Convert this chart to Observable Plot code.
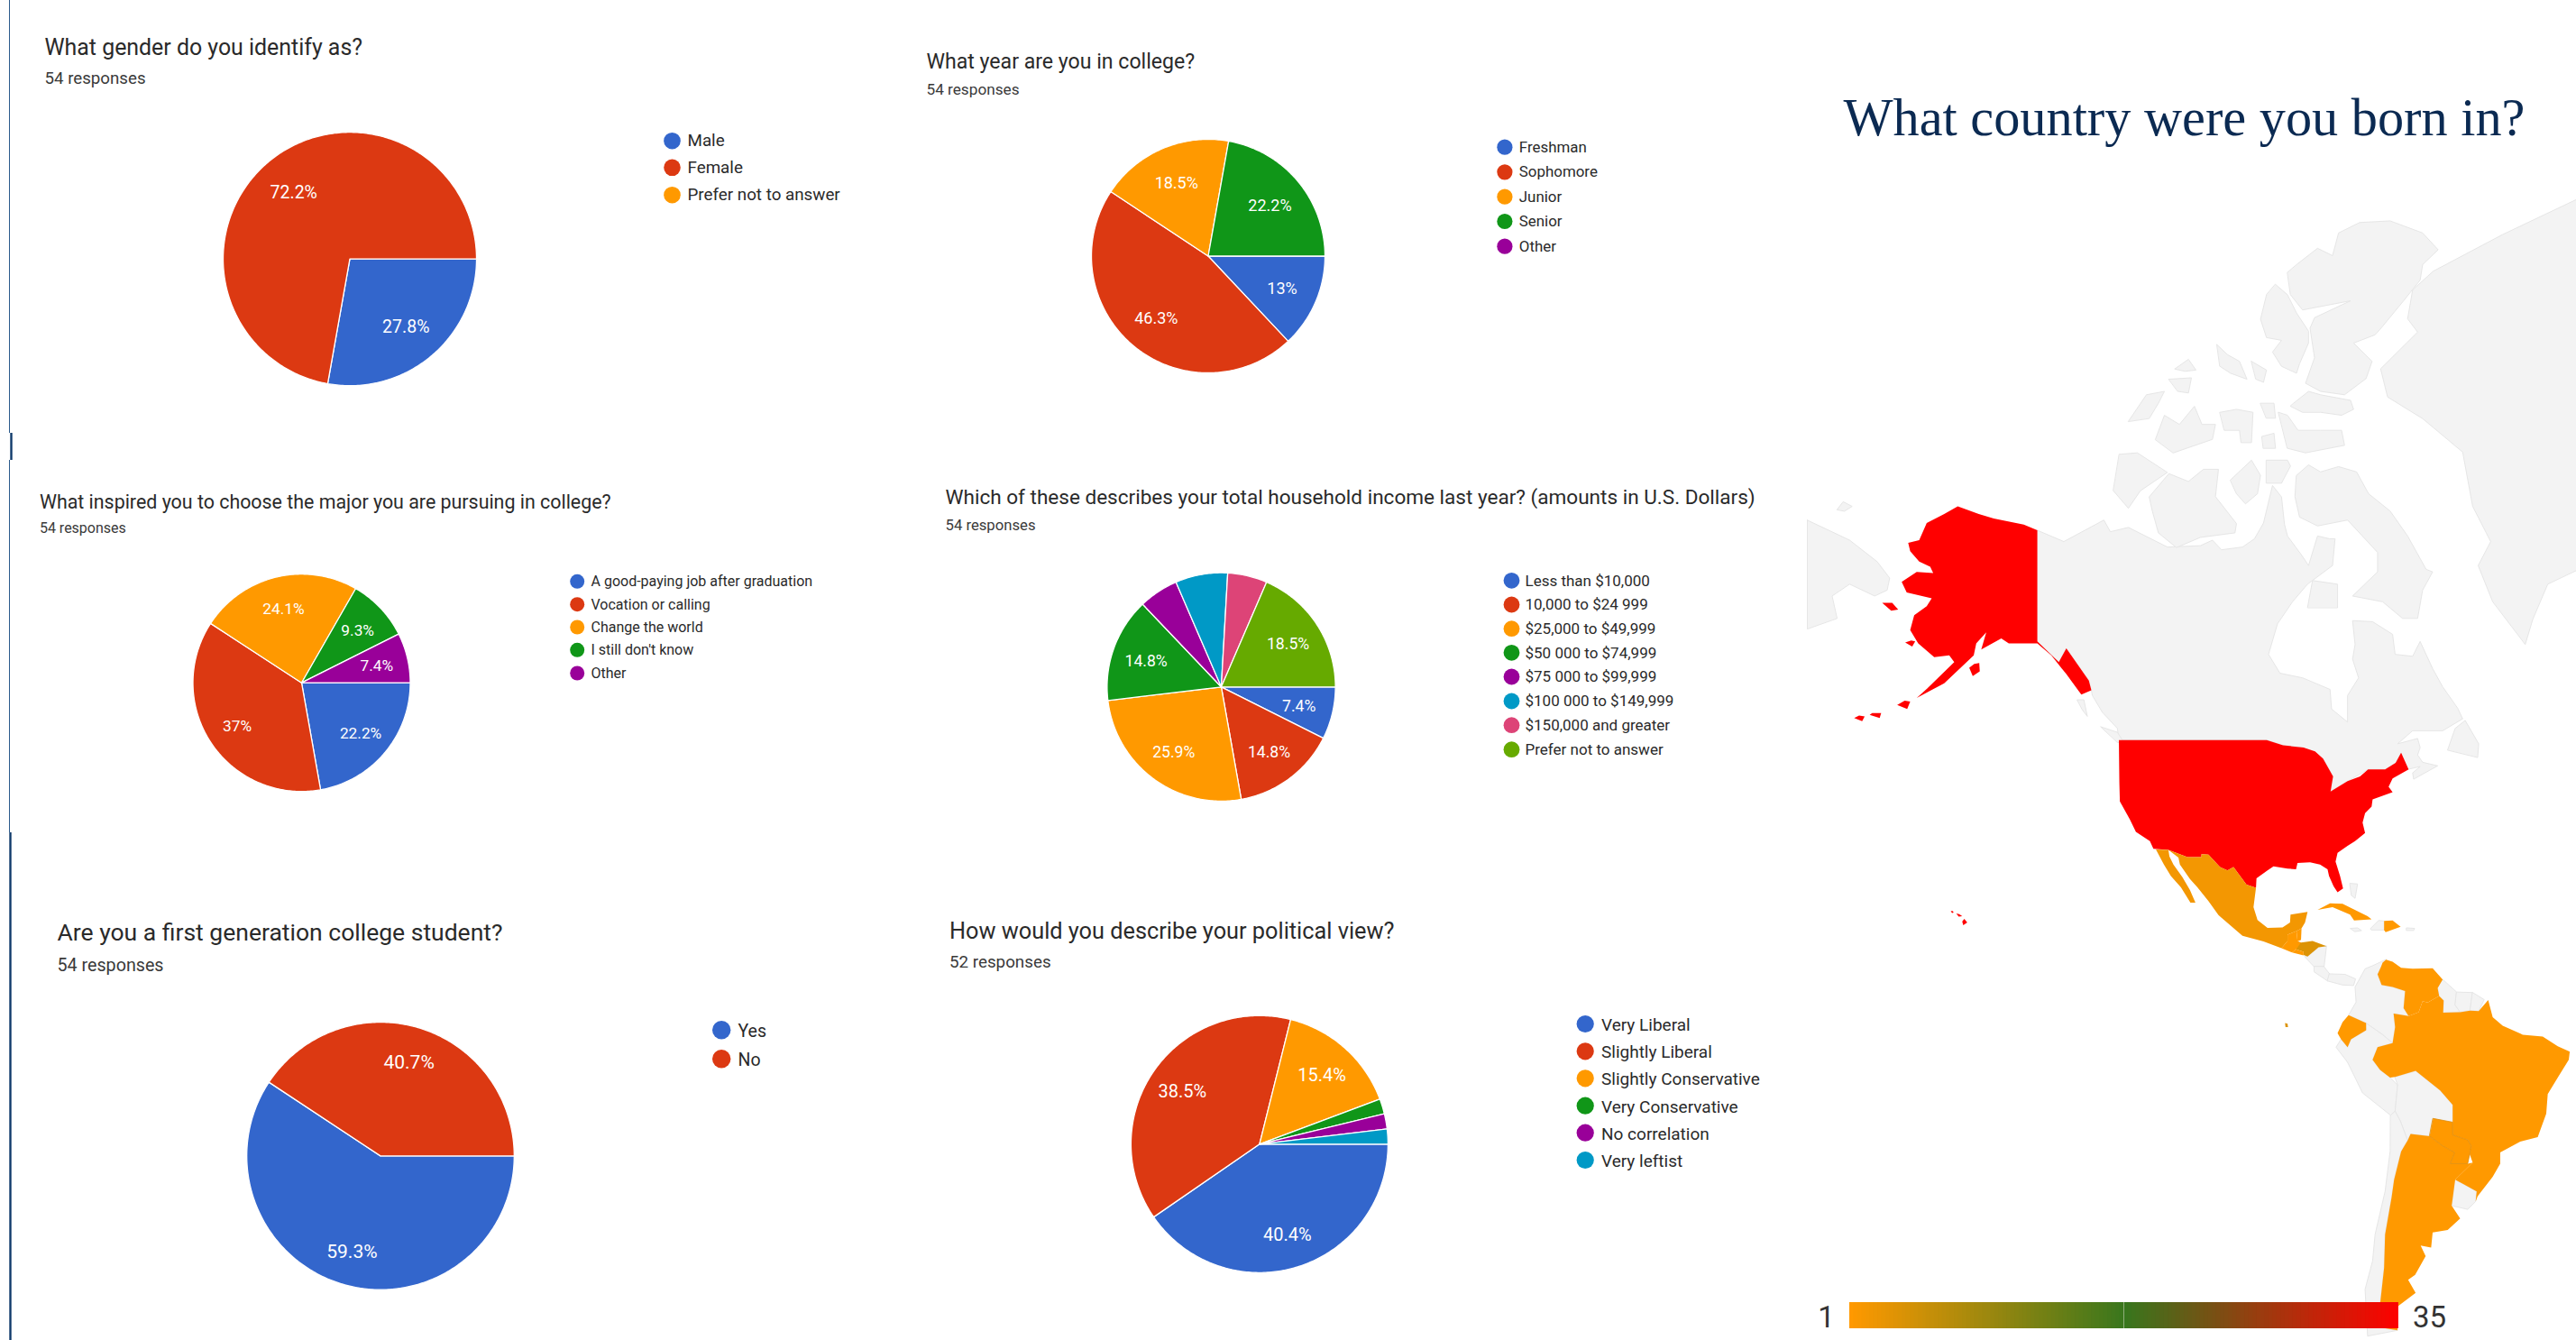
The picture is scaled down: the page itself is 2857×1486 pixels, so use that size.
<!DOCTYPE html>
<html>
<head>
<meta charset="utf-8">
<script src="https://cdn.jsdelivr.net/npm/d3@7"></script>
<script src="https://cdn.jsdelivr.net/npm/@observablehq/plot@0.6"></script>
<style>
html,body{margin:0;padding:0;background:#fff}
#page{position:relative;width:2857px;height:1486px;overflow:hidden;background:#fff}
</style>
</head>
<body>
<div id="page"></div>
<script>
// ---------- survey data ----------
const genderLabels = ["Male", "Female", "Prefer not to answer"];
const genderValues = [27.8, 72.2, 0];
const genderText = ["27.8%", "72.2%", ""];

const yearLabels = ["Freshman", "Sophomore", "Junior", "Senior", "Other"];
const yearValues = [13, 46.3, 18.5, 22.2, 0];
const yearText = ["13%", "46.3%", "18.5%", "22.2%", ""];

const majorLabels = ["A good-paying job after graduation", "Vocation or calling", "Change the world", "I still don't know", "Other"];
const majorValues = [22.2, 37, 24.1, 9.3, 7.4];
const majorText = ["22.2%", "37%", "24.1%", "9.3%", "7.4%"];

const incomeLabels = ["Less than $10,000", "10,000 to $24 999", "$25,000 to $49,999", "$50 000 to $74,999", "$75 000 to $99,999", "$100 000 to $149,999", "$150,000 and greater", "Prefer not to answer"];
const incomeValues = [7.4, 14.8, 25.9, 14.8, 5.6, 7.4, 5.6, 18.5];
const incomeText = ["7.4%", "14.8%", "25.9%", "14.8%", "", "", "", "18.5%"];

const firstGenLabels = ["Yes", "No"];
const firstGenValues = [59.3, 40.7];
const firstGenText = ["59.3%", "40.7%"];

const politicalLabels = ["Very Liberal", "Slightly Liberal", "Slightly Conservative", "Very Conservative", "No correlation", "Very leftist"];
const politicalValues = [40.4, 38.5, 15.4, 1.9, 1.9, 1.9];
const politicalText = ["40.4%", "38.5%", "15.4%", "", "", ""];

const palette = ["#3366cc", "#dc3912", "#ff9900", "#109618", "#990099", "#0099c6", "#dd4477", "#66aa00"];

// ---------- map data: [longitude, latitude] outlines ----------
const alaska = [[-141,69.6],[-143.7,70],[-149.7,70.4],[-152.7,70.7],[-156.9,71.2],[-159.6,70.7],[-163.1,70.1],[-164.6,68.9],[-166.8,68.7],[-166.4,68.1],[-164.6,67.3],[-162.4,66.9],[-161.8,66.4],[-165.1,66.5],[-168.1,65.7],[-167.1,64.8],[-162.1,64.3],[-163.1,63.6],[-165.6,62.8],[-166.4,61.4],[-164.8,60.1],[-161.6,58.7],[-158.6,58.9],[-157.6,58.2],[-163,55.3],[-165.1,54.2],[-159.6,55.9],[-153.7,58.9],[-153.2,60.1],[-151.2,61.2],[-152.2,59.5],[-148.2,60.6],[-146.7,60.1],[-141,60.1],[-138.2,58.9],[-135.2,56.9],[-132.2,54.6],[-130.2,55.1],[-130.7,56.2],[-135.2,59.6],[-136.7,58.2],[-141,60.3]];
const kodiak = [[-154.6,57.6],[-153.9,56.7],[-152.5,57.2],[-152.6,58.1],[-153.6,58]];
const stLawrence = [[-172,63.9],[-170.2,63.2],[-168.8,63.3],[-170,63.9]];
const nunivak = [[-167.4,60.2],[-166,59.8],[-165.4,60.3],[-166.2,60.4]];
const aleutian1 = [[-169,53.4],[-167,52.9],[-166.4,53.8],[-167.5,53.9]];
const aleutian2 = [[-174.5,52.2],[-172.5,51.8],[-172.2,52.4],[-174,52.4]];
const aleutian3 = [[-177.6,51.8],[-176,51.4],[-175.5,52],[-176.6,52.1]];
const hawaii = [[-156,19.7],[-155.8,19],[-155,19.5],[-155.6,20.2]];
const maui = [[-157.2,21.2],[-156.7,20.6],[-156,20.7],[-156.6,21.1]];
const oahu = [[-158.3,21.6],[-158,21.3],[-157.7,21.4],[-158,21.7]];
const usaMain = [[-124.7,49],[-95.15,49],[-91.9,48.3],[-87.8,48],[-85.5,47.5],[-83.9,46.5],[-81.9,44],[-82.4,41.8],[-79,43.3],[-76.5,44],[-74.9,45],[-71.5,45],[-69.4,45.9],[-68.3,47.3],[-66.8,45],[-70,43.7],[-70.8,42.5],[-70,41.7],[-74,40.6],[-74.2,39.5],[-75.5,38.5],[-76,37],[-75.5,35.3],[-77.5,34],[-79,33.2],[-81,32],[-81.4,30.5],[-80.5,28],[-79.9,25.8],[-81,25.1],[-81.8,26.2],[-82.7,28],[-83,29.2],[-84.5,30],[-86.5,30.4],[-89,30.3],[-89.3,29.2],[-91,29.3],[-93.8,29.7],[-95,29],[-97.2,27.6],[-97.3,25.9],[-99.2,26.5],[-101.8,29.6],[-103,29],[-104.5,29.6],[-106.8,31.7],[-108.2,31.8],[-108.2,31.3],[-111,31.3],[-114.8,32.5],[-117.8,32.7],[-118.5,34],[-121.3,35.5],[-122.5,37.5],[-124.5,40.3],[-124.6,43]];
const mexico = [[-114.8,32.5],[-111,31.3],[-108.2,31.3],[-108.2,31.8],[-106.8,31.7],[-104.5,29.6],[-103,29],[-101.8,29.6],[-99.2,26.5],[-97.3,25.9],[-97.8,22.4],[-97,20],[-95,18.5],[-92,18.6],[-90.5,19.5],[-90.4,21],[-87,21.5],[-87.5,19.5],[-88.2,18.4],[-89.2,17.9],[-91,17.2],[-91,16],[-92.2,14.6],[-95.8,15.9],[-100,17],[-104.8,20.9],[-106.8,23.5],[-109,26],[-110.5,27.5],[-112.5,30],[-112.8,31.2]];
const baja = [[-117.3,32.6],[-115.7,30],[-114.3,28],[-112.3,26],[-110.4,23.2],[-109.4,23.2],[-110.5,25.5],[-112,27.8],[-113.8,30],[-114.6,31.4],[-114.8,32.5]];
const guatemala = [[-92.2,14.6],[-91,16],[-91,17.2],[-89.2,17.9],[-89,15.9],[-88.3,15.7],[-89.3,14.4],[-90.1,13.8]];
const belize = [[-89.2,17.9],[-88.2,18.4],[-88.3,16.2],[-89,15.9]];
const elSalvador = [[-90.1,13.8],[-89.3,14.4],[-87.8,13.9],[-87.8,13.2]];
const honduras = [[-89,15.9],[-88.3,15.7],[-86,16],[-83.2,15],[-84.8,14.8],[-87,13],[-87.8,13.3],[-87.8,13.9],[-89.3,14.4]];
const cuba = [[-85,21.9],[-82.5,23.1],[-80,23],[-75,20.7],[-74.2,20.1],[-77.7,19.9],[-78.5,21],[-82,22.4]];
const dominican = [[-71.7,19.8],[-70,19.9],[-68.4,18.7],[-71.4,17.7],[-71.7,18.1]];
const venezuela = [[-72,11.8],[-71.3,12.4],[-70,12],[-68.3,10.8],[-66,10.6],[-62,10.7],[-60,8.5],[-61,6.8],[-60.7,5.2],[-63,3.9],[-64,4.2],[-64.8,2],[-66.8,1.2],[-67.8,2.8],[-67.5,6.2],[-70,7],[-72.2,7.4],[-73,9.5],[-72.3,11]];
const ecuador = [[-78.8,1.4],[-75.3,-0.2],[-75.3,-1.6],[-78.3,-3.4],[-79,-5],[-80.3,-3.4],[-81,-2.2],[-80,0]];
const brazil = [[-60.7,5.2],[-59.8,4.3],[-59.9,1.9],[-56.5,2],[-54.5,2.3],[-52.8,2.2],[-50.9,4.4],[-50,1],[-48,-0.7],[-44,-2.5],[-40,-2.9],[-37,-4.8],[-34.6,-5.9],[-34.8,-7.5],[-37,-11],[-39,-14.2],[-39.3,-18],[-41,-22.4],[-44.5,-23.2],[-48.5,-25.2],[-48.5,-27.2],[-50,-29.5],[-53,-32.8],[-53.4,-33.7],[-53.2,-32],[-55.8,-30.8],[-57.5,-30],[-54,-27],[-54.6,-25.5],[-54.3,-24],[-55,-22.9],[-58,-22],[-58,-19.8],[-58,-16.3],[-60.5,-13.5],[-65.4,-9.7],[-69.5,-10.9],[-70.5,-11],[-72.5,-9.5],[-74,-7.5],[-73,-5],[-70,-4.2],[-69.5,-1],[-69.8,1.7],[-66.8,1.2],[-64.8,2],[-64,4.2],[-63,3.9]];
const paraguay = [[-61.9,-18.9],[-58,-19.6],[-58,-22],[-55,-22.9],[-54.3,-24],[-54.6,-25.5],[-55,-27.2],[-58.5,-27.2],[-57.6,-25.2],[-60,-24],[-62.6,-22.2]];
const argentina = [[-66.4,-21.8],[-62.6,-22.2],[-60,-24],[-57.6,-25.2],[-58.5,-27.2],[-55,-27.2],[-54,-27],[-57.5,-30],[-58,-33.2],[-58.2,-34.4],[-56.5,-36.5],[-59,-38.3],[-62,-38.7],[-62.3,-41],[-64.4,-40.7],[-63.4,-42.3],[-65.5,-45],[-66.9,-45.7],[-65.4,-47.5],[-69.4,-49.5],[-69,-52.3],[-72,-52],[-72.5,-49],[-71.7,-44],[-71.5,-39],[-70.2,-33],[-69.7,-30],[-68.3,-25],[-67,-23]];
const galapagos = [[-91.5,-0.2],[-91,-0.3],[-90.9,-1],[-91.4,-1]];

const canada = [[-141,69.6],[-135.7,68.8],[-127.7,70.3],[-126.4,69.5],[-122.8,69.8],[-115,68.4],[-108.4,68.5],[-106,68.9],[-104.2,68.2],[-100,68.4],[-97.6,69],[-95.8,70.1],[-94,72.5],[-92.2,71.8],[-91.6,70],[-91,69.2],[-88,67.7],[-86.8,67],[-85,69.2],[-82.6,69],[-81.5,69],[-82,67],[-87,65.5],[-90,64],[-93,62],[-94.8,59],[-92.5,57],[-88,56.5],[-82.5,55.2],[-82.2,52.9],[-79,51.3],[-79,54.5],[-76.8,56.5],[-78,58.5],[-77.5,60],[-78,62.3],[-74,62.2],[-70,61],[-69.5,59],[-66,58.8],[-64.5,60.3],[-62,57.5],[-60,55.5],[-57,53],[-56,51.7],[-60,50.2],[-66,50.2],[-69,48.5],[-65,49.2],[-64.5,48],[-65,47],[-64,46],[-61,45.5],[-65.8,43.6],[-66,44.5],[-64.5,45.4],[-67,45],[-68.3,47.3],[-69.4,45.9],[-71.5,45],[-74.9,45],[-79,43.3],[-82.4,41.8],[-81.9,44],[-83.9,46.5],[-87.8,48],[-91.9,48.3],[-95.15,49],[-124.7,49],[-125,50.5],[-128,52.5],[-130,54.5],[-130.2,55.1],[-130.7,56.2],[-135.2,59.6],[-136.7,58.2],[-141,60.3]];
const baffin = [[-89.2,73.1],[-86.8,73.7],[-84.4,73.3],[-80.8,73.6],[-77.2,73.3],[-74.8,72],[-70.5,70.9],[-67,69.2],[-63.3,66.7],[-62,66.5],[-64,65],[-65,62.5],[-68,62.5],[-72,64],[-78,64.5],[-73,66.5],[-73,68],[-79,70.3],[-85,69.9],[-88.6,70.5],[-89.5,71.8]];
const victoria = [[-118.6,71.82],[-114.7,73.2],[-110.8,72.74],[-107.8,73.45],[-104.8,73.45],[-105.4,71.82],[-101.2,70.06],[-101.5,69.42],[-108.4,69.1],[-113.2,68.36],[-116.8,69.42],[-118,70.88]];
const banks = [[-124.6,74.28],[-121,74.36],[-115,73.27],[-120.4,72.18],[-122.8,71.08],[-125.8,72.18]];
const ellesmere = [[-91,81.63],[-89.2,81.85],[-85,82.3],[-82,82.1],[-80.8,82.7],[-76.6,82.96],[-70.5,83],[-64,82.7],[-60.9,82.26],[-64,81.85],[-64.5,81.4],[-67.8,80.76],[-72.3,79.84],[-73.5,79.6],[-77.8,79.3],[-74.1,78.6],[-75.3,77.9],[-79.6,77.2],[-84.4,77.35],[-87.4,77.7],[-85.6,78.74],[-86.5,79.84],[-85.6,80.2],[-78.4,80.76],[-88,80.46],[-90.4,80.95]];
const ellesmereSouth = [[-89.8,76.82],[-86.8,77.35],[-84.4,77.2],[-78.4,76.95],[-77.8,76.54],[-80.2,76.26],[-84.4,76.4],[-88,76.4],[-90.4,76.68]];
const devon = [[-92.8,76.4],[-91,76.26],[-88.9,75.53],[-84.4,75.53],[-80.2,75.53],[-79.6,74.76],[-87.4,74.36],[-91,74.6]];
const axelHeiberg = [[-93.4,81.27],[-91,80.95],[-89.2,80.36],[-86.8,79.73],[-86.8,79.3],[-88.6,78.5],[-89.2,78.12],[-92.2,78.4],[-94,78.96],[-92.2,79.4],[-95.2,79.5],[-96.4,80.15],[-95.2,80.95]];
const amundRingnes = [[-98.2,78.6],[-95.2,78.25],[-95.8,77.74],[-97.3,77.87]];
const ellefRingnes = [[-105.1,79.24],[-103,78.86],[-100.6,78.6],[-99.1,77.87],[-102.4,78.12],[-104.5,78.4]];
const borden = [[-113.5,78.3],[-110.8,78.68],[-109.3,78.25],[-111.4,78.2]];
const mackenzieKing = [[-114.7,77.87],[-110.2,77.93],[-110.8,77.28],[-112.9,77.35]];
const princePatrick = [[-122.8,75.97],[-119.2,77.2],[-115.6,77.35],[-116.8,76.82],[-118.6,76.12]];
const melville = [[-117.4,75.07],[-115.6,76.26],[-112.6,75.82],[-109.6,76.68],[-108.1,75.82],[-105.4,75.82],[-106,75.07],[-113.8,74.36]];
const bathurst = [[-104.5,76.4],[-101.2,76.54],[-97.9,76.4],[-98.2,74.9],[-100.3,74.9],[-100.6,75.53],[-103.6,75.53]];
const cornwallis = [[-96.1,75.22],[-93.7,75.38],[-93.4,74.6],[-95.8,74.6]];
const graham = [[-96.4,76.82],[-93.7,76.82],[-93.4,76.12],[-95.2,76.12]];
const princeOfWales = [[-102.4,72.83],[-98.2,73.96],[-96.4,73.1],[-97,72],[-99.4,71.36],[-101.2,72]];
const somerset = [[-95.2,73.96],[-91,73.96],[-90.4,73.63],[-92.2,72.64],[-95.2,72.64]];
const southampton = [[-87,63.5],[-81,63.5],[-81,65.5],[-86,65.8]];
const newfoundland = [[-59,47.7],[-53,46.7],[-52.8,48.5],[-55.5,51.5],[-57.5,50.5]];
const vancouver = [[-128.3,50.7],[-125,50],[-123.4,48.4],[-125,48.7]];
const haidaGwaii = [[-133,54],[-131.7,54],[-131,52],[-132,52.8]];
const greenland = [[-33.3,83.5],[-48,82.66],[-61.9,81.66],[-66,81.1],[-67,80.16],[-65,79.7],[-72.4,78.3],[-71,77.1],[-64,76.1],[-56,74.4],[-54,71.2],[-50.4,68.8],[-52.9,67],[-50,64],[-43.5,60],[-42,62.4],[-39,65.5],[-33.3,66.6],[-25,69],[-20,74],[-18,77],[-20,81],[-28,83.4]];
const chukotka = [[-195,70.6],[-187,70.3],[-178.5,68.9],[-173,67.3],[-170.5,66],[-171,65],[-173.5,64.5],[-178.5,65.5],[-182,64.5],[-181,62.5],[-187,61.5],[-195,60]];
const wrangel = [[-181,71],[-179.5,70.9],[-178,71.2],[-179.8,71.5]];
const colombia = [[-71.3,12.4],[-72.3,11],[-73,9.5],[-72.2,7.4],[-70,7],[-67.5,6.2],[-67.8,2.8],[-66.8,1.2],[-69.8,1.7],[-69.5,-1],[-70,-4.2],[-72,-2.5],[-75.3,-0.2],[-78.8,1.4],[-77.3,4],[-77.5,7],[-75.5,10.6],[-74,11.2]];
const peru = [[-75.3,-0.2],[-72,-2.5],[-70,-4.2],[-73,-5],[-74,-7.5],[-72.5,-9.5],[-70.5,-11],[-69,-12.5],[-69.5,-17.5],[-70.4,-18.3],[-76,-14],[-79,-8],[-81.3,-5],[-80.3,-3.4],[-79,-5],[-78.3,-3.4],[-75.3,-1.6]];
const bolivia = [[-69.5,-10.9],[-65.4,-9.7],[-60.5,-13.5],[-58,-16.3],[-58,-19.6],[-61.9,-18.9],[-62.6,-22.2],[-66.4,-21.8],[-67,-23],[-68.4,-19.5],[-69.5,-17.5],[-69,-12.5]];
const chile = [[-70.4,-18.3],[-69.5,-17.5],[-68.4,-19.5],[-67,-23],[-68.3,-25],[-69.7,-30],[-70.2,-33],[-71.5,-39],[-71.7,-44],[-72.5,-49],[-72,-52],[-69,-52.3],[-75,-53],[-75.5,-47],[-74,-43],[-73.5,-39],[-71.5,-32],[-70.5,-25]];
const uruguay = [[-57.5,-30],[-55.8,-30.8],[-53.2,-32],[-53.4,-33.7],[-55,-35],[-58.2,-34.4],[-58,-33.2]];
const guyana = [[-60,8.5],[-57.2,6],[-57.5,3.4],[-56.5,2],[-59.9,1.9],[-59.8,4.3],[-60.7,5.2],[-61,6.8]];
const suriname = [[-57.2,6],[-54,5.9],[-54.5,2.3],[-56.5,2],[-57.5,3.4]];
const frenchGuiana = [[-54,5.9],[-51.7,4.5],[-52.8,2.2],[-54.5,2.3]];
const nicaragua = [[-83.2,15],[-83.7,11],[-85.7,11],[-87.6,13],[-87,13],[-84.8,14.8]];
const costaRica = [[-83.7,11],[-82.6,9.6],[-83,8.2],[-85.7,10],[-85.7,11]];
const panama = [[-82.6,9.6],[-79.5,9.5],[-77.4,8.6],[-77.8,7.3],[-80,7.4],[-83,8.2]];
const haiti = [[-74.4,18.4],[-72.8,19.9],[-71.7,19.8],[-71.7,18.1],[-74.2,18.1]];
const jamaica = [[-78.4,18.4],[-77,18.5],[-76.2,18],[-77.5,17.8]];
const puertoRico = [[-67.2,18.5],[-65.6,18.4],[-65.8,18],[-67.2,18]];
const bahamas = [[-78.5,26.7],[-77,26.6],[-77.5,24],[-78.2,24.5]];

const grayLands = [canada, baffin, victoria, banks, ellesmere, ellesmereSouth, devon, axelHeiberg, amundRingnes, ellefRingnes, borden, mackenzieKing, princePatrick, melville, bathurst, cornwallis, graham, princeOfWales, somerset, southampton, newfoundland, vancouver, haidaGwaii, greenland, chukotka, wrangel, colombia, peru, bolivia, chile, uruguay, guyana, suriname, frenchGuiana, nicaragua, costaRica, panama, haiti, jamaica, puertoRico, bahamas];
const countedLands = [
  {outlines: [alaska, kodiak, stLawrence, nunivak, aleutian1, aleutian2, aleutian3, hawaii, maui, oahu, usaMain], count: 35},
  {outlines: [mexico, baja], count: 2},
  {outlines: [honduras], count: 4},
  {outlines: [galapagos], count: 4},
  {outlines: [guatemala, belize, elSalvador, cuba, dominican, venezuela, ecuador, brazil, paraguay, argentina], count: 1}
];
const scaleTicks = [1, 35];
const scaleDomain = [1, 18, 35];
const scaleColors = ["#ff9900", "#38761d", "#ff0000"];

// ---------- layout of the panels ----------
const panels = [
  {title: "What gender do you identify as?", sub: "54 responses", labels: genderLabels, values: genderValues, text: genderText, nudge: 0,
   tx: 49, ty: 53, tf: 24.9, sy: 87, sf: 18.7, cx: 387.5, cy: 286.7, r: 140.5, pf: 19.5, pr: 0.69,
   lx: 745, ltx: 762, ly: [155.7, 185.3, 215.7], lr: 9.3, lf: 18.8},
  {title: "What year are you in college?", sub: "54 responses", labels: yearLabels, values: yearValues, text: yearText, nudge: 0,
   tx: 1027, ty: 68, tf: 23.1, sy: 99, sf: 17.2, cx: 1339.5, cy: 283.5, r: 129.5, pf: 18, pr: 0.69,
   lx: 1668.4, ltx: 1684.3, ly: [162.7, 190.3, 217.7, 245, 272.7], lr: 8.6, lf: 16.9},
  {title: "What inspired you to choose the major you are pursuing in college?", sub: "54 responses", labels: majorLabels, values: majorValues, text: majorText, nudge: 0.4,
   tx: 43.4, ty: 556, tf: 21.4, sy: 585, sf: 16, cx: 334, cy: 756.7, r: 120.5, pf: 17.3, pr: 0.71,
   lx: 639.7, ltx: 655, ly: [644.3, 669.7, 695, 720.3, 746], lr: 8, lf: 16},
  {title: "Which of these describes your total household income last year? (amounts in U.S. Dollars)", sub: "54 responses", labels: incomeLabels, values: incomeValues, text: incomeText, nudge: 0.4,
   tx: 1048, ty: 551, tf: 22.55, sy: 581.7, sf: 16.7, cx: 1354, cy: 761.3, r: 126.6, pf: 17.6, pr: 0.7,
   lx: 1676, ltx: 1691, ly: [643.3, 670, 696.7, 723.3, 750, 777, 803.7, 830.7], lr: 8.9, lf: 17},
  {title: "Are you a first generation college student?", sub: "54 responses", labels: firstGenLabels, values: firstGenValues, text: firstGenText, nudge: 1.5,
   tx: 63, ty: 1033, tf: 26.5, sy: 1069, sf: 19.7, cx: 421.5, cy: 1281.4, r: 148.3, pf: 21, pr: 0.74,
   lx: 799.7, ltx: 818, ly: [1141.7, 1173.7], lr: 10.2, lf: 19.5},
  {title: "How would you describe your political view?", sub: "52 responses", labels: politicalLabels, values: politicalValues, text: politicalText, nudge: 1.5,
   tx: 1052.5, ty: 1030.7, tf: 25.3, sy: 1065, sf: 18.8, cx: 1396.4, cy: 1268.3, r: 142.5, pf: 20, pr: 0.73,
   lx: 1757.7, ltx: 1775.5, ly: [1135, 1165.3, 1195.3, 1225.7, 1255.7, 1286], lr: 9.6, lf: 19}
];
const edgeLines = [
  {x: 10, y1: 0, y2: 480, w: 1, c: "#2b5a8c"},
  {x: 12, y1: 480, y2: 510, w: 2.4, c: "#0f3a6b"},
  {x: 10, y1: 510, y2: 923, w: 1, c: "#2b5a8c"},
  {x: 11, y1: 923, y2: 1486, w: 2.4, c: "#0f3a6b"}
];
const page = document.getElementById("page");
const font = "Roboto";

// ---------- pies, text and legends ----------
const pie = d3.pie().sort(null).startAngle(Math.PI / 2).endAngle(Math.PI * 2.5);
const panelMarks = panels.flatMap(p => {
  const arcs = pie(p.values);
  const slices = arcs.filter(a => a.value > 0).flatMap(a => {
    const steps = Math.max(2, Math.ceil((a.endAngle - a.startAngle) / 0.015));
    const pts = [{key: a.index, color: palette[a.index], x: p.cx, y: p.cy}];
    for (let i = 0; i <= steps; i++) {
      const t = a.startAngle + (a.endAngle - a.startAngle) * i / steps;
      pts.push({key: a.index, color: palette[a.index], x: p.cx + p.r * Math.sin(t), y: p.cy - p.r * Math.cos(t)});
    }
    return pts;
  });
  const values = arcs.filter(a => p.text[a.index]).map(a => {
    const t = (a.startAngle + a.endAngle) / 2;
    return {s: p.text[a.index], x: p.cx + p.pr * p.r * Math.sin(t), y: p.cy - p.pr * p.r * Math.cos(t)};
  });
  const legend = p.labels.map((s, i) => ({s, i, y: p.ly[i]}));
  return [
    Plot.line(slices, {x: "x", y: "y", z: "key", fill: "color", stroke: "#fff", strokeWidth: 1.3, curve: "linear-closed"}),
    Plot.text(values, {x: "x", y: "y", text: "s", dy: 1.2, fill: "#fff", fontSize: p.pf, fontFamily: font}),
    Plot.text([p.title], {x: () => p.tx, y: () => p.ty, text: d => d, dy: p.nudge, textAnchor: "start", fontSize: p.tf, fontFamily: font, fill: "#2a2a2a"}),
    Plot.text([p.sub], {x: () => p.tx, y: () => p.sy, text: d => d, dy: p.nudge, textAnchor: "start", fontSize: p.sf, fontFamily: font, fill: "#3a3a3a"}),
    Plot.dot(legend, {x: () => p.lx, y: "y", r: p.lr, fill: d => palette[d.i], stroke: null}),
    Plot.text(legend, {x: () => p.ltx, y: "y", text: "s", dy: p.nudge, textAnchor: "start", fontSize: p.lf, fontFamily: font, fill: "#2a2a2a"})
  ];
});

page.append(Plot.plot({
  width: 2857, height: 1486, margin: 0,
  x: {domain: [0, 2857], range: [0, 2857], axis: null},
  y: {domain: [0, 1486], range: [0, 1486], axis: null},
  color: {type: "identity"},
  style: {position: "absolute", left: "0", top: "0", background: "transparent", maxWidth: "none"},
  marks: [
    ...edgeLines.map(e => Plot.ruleX([e], {x: "x", y1: "y1", y2: "y2", stroke: e.c, strokeWidth: e.w})),
    ...panelMarks,
    Plot.text(["What country were you born in?"], {x: () => 2044, y: () => 131, text: d => d, textAnchor: "start", fontSize: 58.3, fontFamily: "Liberation Serif", fill: "#0b2a52"})
  ]
}));

// ---------- map ----------
function toPolygon(ring) {
  const closed = [...ring, ring[0]];
  let poly = {type: "Polygon", coordinates: [closed]};
  if (d3.geoArea(poly) > 2 * Math.PI) poly = {type: "Polygon", coordinates: [closed.slice().reverse()]};
  return poly;
}
const grayFeatures = grayLands.map(toPolygon);
const countedFeatures = countedLands.flatMap(c => c.outlines.map(o => ({type: "Feature", properties: {count: c.count}, geometry: toPolygon(o)})));
const mercator = d3.geoMercator().rotate([100, 0]).scale(318).translate([482.6, 1133]).precision(0)
  .clipExtent([[0, 220], [853, 1486]]);

page.append(Plot.plot({
  width: 853, height: 1486, margin: 0,
  projection: mercator,
  color: {type: "linear", domain: scaleDomain, range: scaleColors},
  style: {position: "absolute", left: "2004px", top: "0", background: "transparent", maxWidth: "none"},
  marks: [
    Plot.geo(grayFeatures, {fill: "#f3f3f3", stroke: "#e6e6e6", strokeWidth: 1}),
    Plot.geo(countedFeatures, {fill: d => d.properties.count}),
    Plot.geo([toPolygon(paraguay)], {fill: "none", stroke: "#e08c08", strokeWidth: 0.8})
  ]
}));

// ---------- colour scale ----------
const ramp = d3.range(1, 35, 0.25);
page.append(Plot.plot({
  width: 760, height: 56, margin: 0,
  x: {domain: [1, 35], range: [47, 655], axis: null},
  y: {domain: [0, 1], range: [43, 14], axis: null},
  color: {type: "linear", domain: scaleDomain, range: scaleColors},
  style: {position: "absolute", left: "2004px", top: "1430px", background: "transparent", maxWidth: "none"},
  marks: [
    Plot.rect(ramp, {x1: d => d, x2: d => d + 0.3, y1: () => 0, y2: () => 1, fill: d => d}),
    Plot.ruleX([18], {y1: () => 0, y2: () => 1, stroke: "#8fae7a", strokeWidth: 1}),
    Plot.text([scaleTicks[0]], {x: d => d, y: () => 0.5, text: d => String(d), dx: -26, dy: 2, fontSize: 33, fontFamily: font, fill: "#333"}),
    Plot.text([scaleTicks[1]], {x: d => d, y: () => 0.5, text: d => String(d), dx: 35, dy: 2, fontSize: 33, fontFamily: font, fill: "#333"})
  ]
}));
</script>
</body>
</html>
